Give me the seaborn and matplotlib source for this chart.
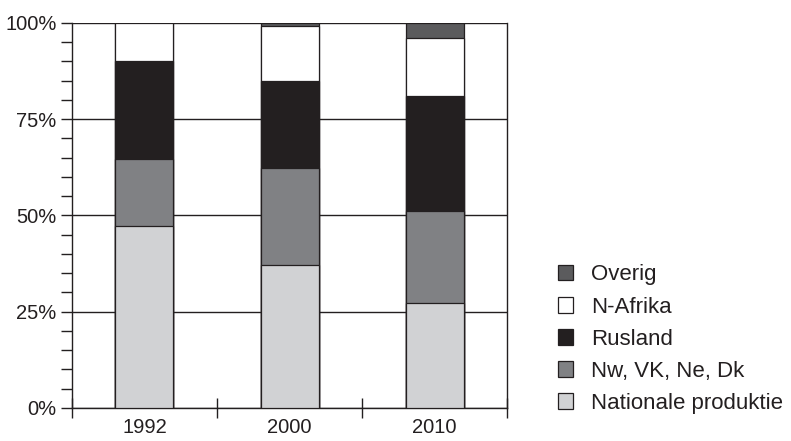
import numpy as np
import pandas as pd
import matplotlib
matplotlib.use("Agg")
import matplotlib.pyplot as plt
import seaborn as sns
from matplotlib.patches import Patch
from matplotlib.ticker import MultipleLocator, FixedLocator, NullFormatter


# ==========================================
# DATA (percent share per source)
# ==========================================

years = ["1992", "2000", "2010"]

nationale_produktie = [47.3, 37.1, 27.2]
nw_vk_ne_dk = [17.4, 25.2, 24.0]
rusland = [25.5, 22.6, 29.7]
n_afrika = [9.8, 14.3, 15.3]
overig = [0.0, 0.8, 3.8]

series_names = [
    "Nationale produktie",
    "Nw, VK, Ne, Dk",
    "Rusland",
    "N-Afrika",
    "Overig",
]

series_colors = [
    "#d1d2d4",
    "#808184",
    "#231f20",
    "#ffffff",
    "#5b5b5d",
]


# ==========================================
# CUMULATIVE TABLE
# ==========================================

table = pd.DataFrame({
    "year": years,
    "Nationale produktie": nationale_produktie,
    "Nw, VK, Ne, Dk": nw_vk_ne_dk,
    "Rusland": rusland,
    "N-Afrika": n_afrika,
    "Overig": overig,
})

cumulative = table[series_names].cumsum(axis=1)
cumulative["year"] = table["year"]


# ==========================================
# FIGURE
# ==========================================

sns.set_style("white")
plt.rcParams["font.family"] = ["Liberation Sans", "DejaVu Sans"]

fig = plt.figure(figsize=(7.91, 4.41), dpi=100)
ax = fig.add_axes([0.091, 0.075, 0.55, 0.873])

# draw tallest stack first, then overlay lower stacks
for name, color in reversed(list(zip(series_names, series_colors))):
    sns.barplot(
        data=cumulative,
        x="year",
        y=name,
        color=color,
        saturation=1,
        width=0.4,
        edgecolor="#231f20",
        linewidth=0.9,
        ax=ax,
        zorder=3,
    )

ax.set_ylim(0, 100)
ax.set_xlim(-0.5, 2.5)

ax.yaxis.set_major_locator(MultipleLocator(25))
ax.yaxis.set_minor_locator(MultipleLocator(5))
ax.set_yticks([0, 25, 50, 75, 100])
ax.set_yticklabels(["0%", "25%", "50%", "75%", "100%"])

ax.xaxis.set_major_locator(FixedLocator([-0.5, 0.5, 1.5, 2.5]))
ax.xaxis.set_major_formatter(NullFormatter())
ax.xaxis.set_minor_locator(FixedLocator([0, 1, 2]))
ax.set_xticks([0, 1, 2], minor=True)
ax.set_xticklabels(years, minor=True)

ax.tick_params(axis="y", which="both", direction="out", length=8,
               width=1, color="#231f20", left=True, labelsize=14.5,
               labelcolor="#231f20", pad=3)
ax.tick_params(axis="x", which="major", direction="inout", length=15,
               width=1, color="#231f20", bottom=True)
ax.tick_params(axis="x", which="minor", length=0, labelsize=14.5,
               labelcolor="#231f20", pad=7)

ax.set_xlabel("")
ax.set_ylabel("")

ax.grid(axis="y", which="major", color="#231f20", linewidth=1)
ax.set_axisbelow(True)

for side in ["left", "right", "bottom", "top"]:
    ax.spines[side].set_visible(True)
    ax.spines[side].set_color("#231f20")
    ax.spines[side].set_linewidth(1)
ax.spines["top"].set_visible(False)


# ==========================================
# LEGEND
# ==========================================

handles = [
    Patch(facecolor=color, edgecolor="#231f20", linewidth=0.9, label=name)
    for name, color in reversed(list(zip(series_names, series_colors)))
]

fig.legend(
    handles=handles,
    loc="lower left",
    bbox_to_anchor=(0.68, 0.016),
    frameon=False,
    fontsize=16,
    handlelength=0.7,
    handleheight=0.7,
    handletextpad=0.8,
    labelspacing=0.5,
    labelcolor="#231f20",
)

fig.savefig("out.png", dpi=100)
